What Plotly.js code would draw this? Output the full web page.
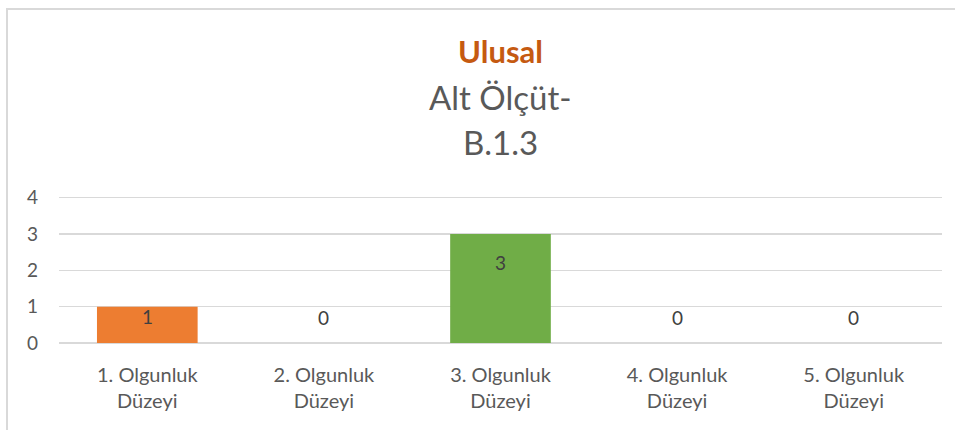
<!DOCTYPE html>
<html>
<head>
<meta charset="utf-8">
<script src="https://cdn.plot.ly/plotly-3.0.1.min.js"></script>
<style>
  html, body { margin: 0; padding: 0; background: #ffffff; overflow: hidden; width: 955px; height: 430px; }
  #frame { position: absolute; left: 6px; top: 8px; width: 1000px; height: 500px; border: 2px solid #d9d9d9; box-sizing: border-box; }
  #chart { position: absolute; left: 0; top: 0; width: 955px; height: 430px; }
</style>
</head>
<body>
<div id="frame"></div>
<div id="chart"></div>
<script>
const titleMain = "Ulusal";
const titleSub = ["Alt Ölçüt-", "B.1.3"];
const categories = ["1. Olgunluk Düzeyi", "2. Olgunluk Düzeyi", "3. Olgunluk Düzeyi", "4. Olgunluk Düzeyi", "5. Olgunluk Düzeyi"];
const tickLabels = ["1. Olgunluk<br>Düzeyi", "2. Olgunluk<br>Düzeyi", "3. Olgunluk<br>Düzeyi", "4. Olgunluk<br>Düzeyi", "5. Olgunluk<br>Düzeyi"];
const values = [1, 0, 3, 0, 0];
const barColors = ["#ED7D31", "#A5A5A5", "#70AD47", "#FFC000", "#4472C4"];
const yTicks = [0, 1, 2, 3, 4];

const FONT = "Lato, 'Open Sans', sans-serif";
const GRAY = "#595959";

const trace = {
  type: "bar",
  x: categories,
  y: values,
  marker: { color: barColors },
  hoverinfo: "x+y",
  showlegend: false
};

const annotations = [];
values.forEach((v, i) => {
  annotations.push({
    x: categories[i], y: v > 0 ? v * 0.74 : 0.7,
    xref: "x", yref: "y",
    text: String(v), showarrow: false,
    font: { family: FONT, size: 19, color: "#404040" },
    xanchor: "center", yanchor: "middle"
  });
});
const subY = [97, 142];
titleSub.forEach((t, i) => {
  annotations.push({
    x: 0.5, xref: "paper", y: 1 + (194 - subY[i]) / 149, yref: "paper",
    text: t, showarrow: false,
    font: { family: FONT, size: 33, color: GRAY },
    xanchor: "center", yanchor: "middle"
  });
});

const layout = {
  width: 955, height: 430,
  paper_bgcolor: "rgba(0,0,0,0)",
  plot_bgcolor: "rgba(0,0,0,0)",
  margin: { l: 59, r: 13, t: 194, b: 87, pad: 0 },
  bargap: 0.43,
  title: {
    text: "<b>" + titleMain + "</b>",
    font: { family: FONT, size: 31, color: "#C55A11" },
    x: 0.5, xref: "paper", xanchor: "center",
    y: 1 - 52 / 430, yref: "container", yanchor: "middle"
  },
  xaxis: {
    type: "category",
    tickvals: categories,
    ticktext: tickLabels,
    tickfont: { family: FONT, size: 20, color: GRAY },
    showgrid: false, zeroline: false, showline: false, ticks: "",
    ticklabelstandoff: 18
  },
  yaxis: {
    range: [0, 4.1],
    tickvals: yTicks,
    tickfont: { family: FONT, size: 19, color: GRAY },
    showgrid: true, gridcolor: "#d9d9d9", gridwidth: 1.5,
    zeroline: true, zerolinecolor: "#d9d9d9", zerolinewidth: 1.5,
    showline: false, ticks: "",
    ticklabelstandoff: 20
  },
  annotations: annotations,
  font: { family: FONT, color: GRAY }
};

Plotly.newPlot("chart", [trace], layout, { displayModeBar: false, staticPlot: true });
</script>
</body>
</html>
